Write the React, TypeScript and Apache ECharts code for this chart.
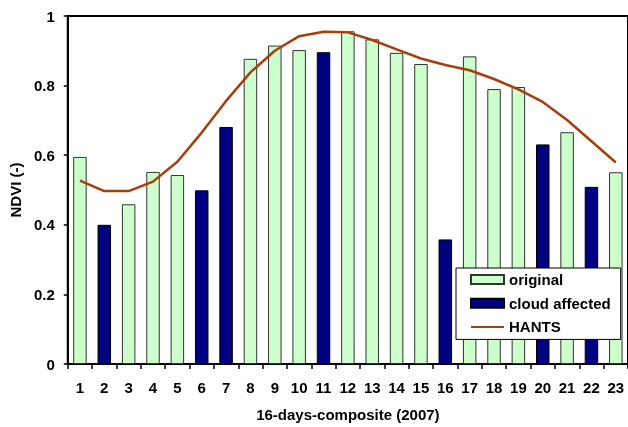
import React, { useEffect, useRef } from "react";
import * as echarts from "echarts";

const categories = ["1","2","3","4","5","6","7","8","9","10","11","12","13","14","15","16","17","18","19","20","21","22","23"];
const originalValues: (number | string)[] = [0.595, "-", 0.459, 0.552, 0.543, "-", "-", 0.877, 0.915, 0.902, "-", 0.956, 0.933, 0.894, 0.862, "-", 0.884, 0.790, 0.796, "-", 0.666, "-", 0.551];
const cloudValues: (number | string)[] = ["-", 0.400, "-", "-", "-", 0.499, 0.681, "-", "-", "-", 0.896, "-", "-", "-", "-", 0.358, "-", "-", "-", 0.631, "-", 0.509, "-"];
const hantsValues = [0.527, 0.497, 0.497, 0.524, 0.581, 0.665, 0.756, 0.838, 0.900, 0.942, 0.955, 0.953, 0.931, 0.904, 0.878, 0.859, 0.844, 0.819, 0.789, 0.753, 0.701, 0.640, 0.579];
const legendNames = ["original", "cloud affected", "HANTS"];

const FONT = "'Liberation Sans', Arial, sans-serif";

export default function App() {
  const ref = useRef<HTMLDivElement>(null);
  useEffect(() => {
    if (!ref.current) return;
    const chart = echarts.init(ref.current, null, { renderer: "svg" });
    chart.setOption({
      animation: false,
      textStyle: { fontFamily: FONT, fontWeight: "bold", color: "#000" },
      grid: {
        left: 66, top: 16, width: 564, height: 353,
        show: true, borderColor: "#000", borderWidth: 2, backgroundColor: "transparent",
      },
      legend: {
        orient: "vertical",
        left: 456, top: 268,
        padding: [4, 10, 5, 14],
        itemGap: 8.7,
        itemWidth: 33, itemHeight: 9,
        backgroundColor: "#fff",
        borderColor: "#000", borderWidth: 1,
        textStyle: { fontFamily: FONT, fontWeight: "bold", fontSize: 15, lineHeight: 15, color: "#000" },
        data: [
          { name: legendNames[0], icon: "rect" },
          { name: legendNames[1], icon: "rect" },
          {
            name: legendNames[2],
            itemStyle: { color: "rgba(0,0,0,0)", borderColor: "rgba(0,0,0,0)", borderWidth: 0 },
            lineStyle: { color: "#A83E0C", width: 2 },
          },
        ],
      },
      xAxis: {
        type: "category",
        data: categories,
        boundaryGap: true,
        axisLine: { lineStyle: { color: "#000", width: 2 } },
        axisTick: { show: true, length: 5, lineStyle: { color: "#000", width: 1.5 } },
        axisLabel: { margin: 16, fontSize: 15, fontWeight: "bold", fontFamily: FONT, color: "#000", interval: 0 },
        name: "16-days-composite (2007)",
        nameLocation: "middle",
        nameGap: 43,
        nameTextStyle: { fontSize: 15, fontWeight: "bold", fontFamily: FONT, color: "#000" },
      },
      yAxis: {
        type: "value",
        min: 0, max: 1, interval: 0.2,
        splitLine: { show: false },
        axisLine: { show: true, lineStyle: { color: "#000", width: 2 } },
        axisTick: { show: true, length: 4, lineStyle: { color: "#000", width: 1.5 } },
        axisLabel: { margin: 13, fontSize: 15, fontWeight: "bold", fontFamily: FONT, color: "#000" },
        name: "NDVI (-)",
        nameLocation: "middle",
        nameGap: 40,
        nameTextStyle: { fontSize: 15, fontWeight: "bold", fontFamily: FONT, color: "#000" },
      },
      series: [
        {
          name: legendNames[0],
          type: "bar",
          data: originalValues,
          barWidth: 13.5,
          barGap: "-100%",
          itemStyle: { color: "#CCFFCC", borderColor: "#333", borderWidth: 1 },
        },
        {
          name: legendNames[1],
          type: "bar",
          data: cloudValues,
          barWidth: 13.5,
          barGap: "-100%",
          itemStyle: { color: "#000080", borderColor: "#000", borderWidth: 1 },
        },
        {
          name: legendNames[2],
          type: "line",
          data: hantsValues,
          symbol: "none",
          lineStyle: { color: "#A83E0C", width: 2.5 },
          itemStyle: { color: "#A83E0C" },
        },
      ],
    });
    return () => chart.dispose();
  }, []);
  return <div ref={ref} style={{ position: "fixed", left: 0, top: 0, width: 628, height: 427 }} />;
}
